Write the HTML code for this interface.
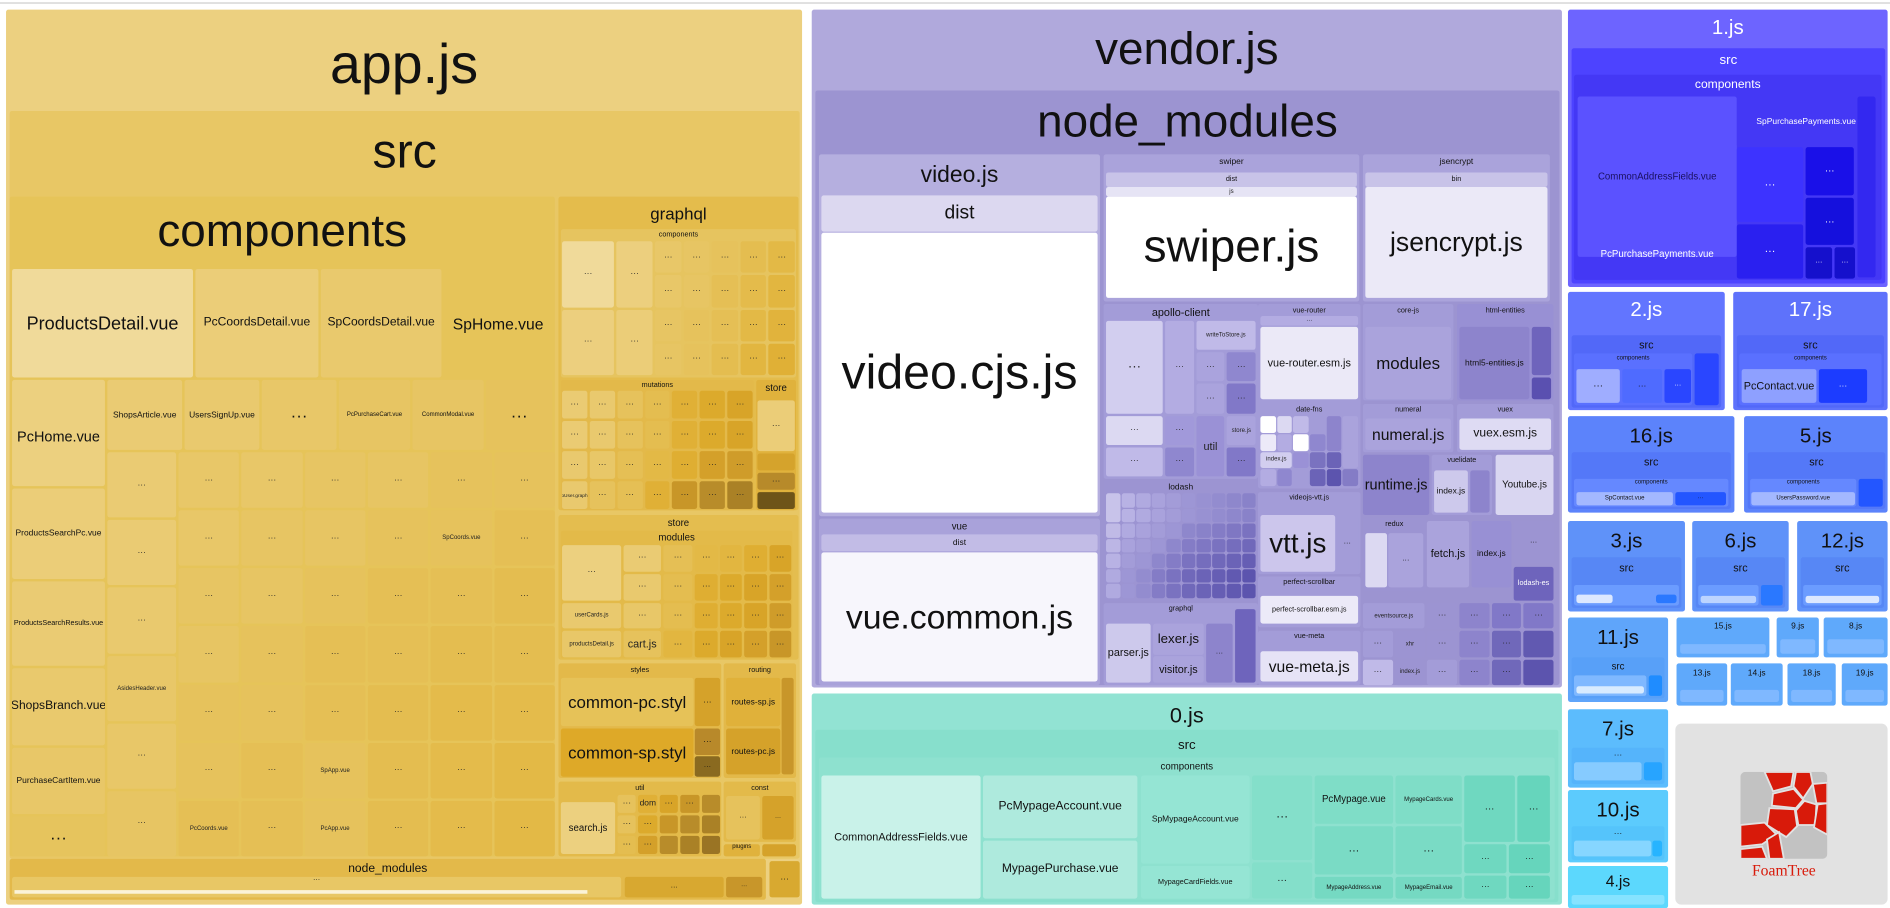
<!DOCTYPE html>
<html><head><meta charset="utf-8"><style>
html,body{margin:0;padding:0;width:1890px;height:908px;overflow:hidden;background:#fff}
#w{position:absolute;left:0;top:0;width:1567px;height:753px;transform:scale(1.20613);transform-origin:0 0}
.b{position:absolute;box-sizing:border-box;border-radius:2px;display:flex;justify-content:center;align-items:center;text-align:center;font-family:"Liberation Sans",sans-serif;color:#111;overflow:hidden;white-space:nowrap;line-height:1}
.t{align-items:flex-start}
.g{position:absolute;display:grid;gap:2px}
.g div{border-radius:2px;display:flex;align-items:center;justify-content:center;font-family:"Liberation Sans",sans-serif;font-size:7px;color:#222;overflow:hidden;white-space:nowrap}
.wt{color:#fff}
</style></head><body><div id="w">
<div style="position:absolute;left:0;top:2px;width:1567px;height:1px;background:#ccc"></div>
<!-- APP -->
<div class="b t" style="left:5px;top:8px;width:660px;height:742px;background:#ecd080;font-size:46px;padding-top:22px">app.js</div>
<div class="b t" style="left:8px;top:92px;width:655px;height:620px;background:#e8c765;font-size:40px;padding-top:14px">src</div>
<div class="b t" style="left:8px;top:163px;width:452px;height:547px;background:#e6c459;font-size:38px;padding-top:10px">components</div>
<div class="b" style="left:10px;top:223px;width:150px;height:90px;background:#f0da9a;font-size:15px">ProductsDetail.vue</div>
<div class="b" style="left:162px;top:223px;width:102px;height:90px;background:#ebcd78;font-size:10px">PcCoordsDetail.vue</div>
<div class="b" style="left:266px;top:223px;width:100px;height:90px;background:#e9c96d;font-size:10px">SpCoordsDetail.vue</div>
<div class="b" style="left:368px;top:223px;width:90px;height:90px;background:#e6c459;font-size:13px">SpHome.vue</div>
<div class="b" style="left:10px;top:315px;width:77px;height:88px;background:#ecd07f;font-size:12px;align-items:flex-end;padding-bottom:35px">PcHome.vue</div>
<div class="b" style="left:10px;top:405px;width:77px;height:75px;background:#ebcd78;font-size:7px">ProductsSearchPc.vue</div>
<div class="b" style="left:10px;top:482px;width:77px;height:70px;background:#eacb73;font-size:6px">ProductsSearchResults.vue</div>
<div class="b" style="left:10px;top:554px;width:77px;height:64px;background:#e9c96d;font-size:10px">ShopsBranch.vue</div>
<div class="b" style="left:10px;top:620px;width:77px;height:55px;background:#e8c768;font-size:7px">PurchaseCartItem.vue</div>
<div class="b" style="left:10px;top:677px;width:77px;height:33px;background:#e6c45d;font-size:14px">···</div>
<div class="b" style="left:89px;top:315px;width:62px;height:58px;background:#eacb73;font-size:7px">ShopsArticle.vue</div>
<div class="b" style="left:153px;top:315px;width:62px;height:58px;background:#e9c96e;font-size:7px">UsersSignUp.vue</div>
<div class="b" style="left:217px;top:315px;width:62px;height:58px;background:#e8c768;font-size:14px">···</div>
<div class="b" style="left:281px;top:315px;width:59px;height:58px;background:#e7c563;font-size:5px">PcPurchaseCart.vue</div>
<div class="b" style="left:342px;top:315px;width:59px;height:58px;background:#e7c563;font-size:5px">CommonModal.vue</div>
<div class="b" style="left:403px;top:315px;width:55px;height:58px;background:#e6c25c;font-size:14px">···</div>
<div class="g" style="left:89px;top:375px;width:57px;height:335px;grid-template-rows:repeat(6,1fr)">
<div style="background:#eacb73">···</div><div style="background:#eacb73">···</div><div style="background:#e9c96e">···</div><div style="background:#e8c768;font-size:5px">AsidesHeader.vue</div><div style="background:#e8c768">···</div><div style="background:#e7c563">···</div></div>
<div class="g" style="left:148px;top:375px;width:312px;height:335px;grid-template-columns:repeat(6,1fr);grid-template-rows:repeat(7,1fr)">
<div style="background:#e8c768">···</div><div style="background:#e8c768">···</div><div style="background:#e7c563">···</div><div style="background:#e7c563">···</div><div style="background:#e6c25c">···</div><div style="background:#e6c25c">···</div>
<div style="background:#e8c768">···</div><div style="background:#e7c563">···</div><div style="background:#e7c563">···</div><div style="background:#e6c25c">···</div><div style="background:#e6c25c;font-size:5px">SpCoords.vue</div><div style="background:#e5bf55">···</div>
<div style="background:#e7c563">···</div><div style="background:#e7c563">···</div><div style="background:#e6c25c">···</div><div style="background:#e5bf55">···</div><div style="background:#e5bf55">···</div><div style="background:#e4bd50">···</div>
<div style="background:#e7c563">···</div><div style="background:#e6c25c">···</div><div style="background:#e5bf55">···</div><div style="background:#e5bf55">···</div><div style="background:#e4bd50">···</div><div style="background:#e4bd50">···</div>
<div style="background:#e6c25c">···</div><div style="background:#e6c25c">···</div><div style="background:#e5bf55">···</div><div style="background:#e4bd50">···</div><div style="background:#e4bb4b">···</div><div style="background:#e4bb4b">···</div>
<div style="background:#e6c25c">···</div><div style="background:#e5bf55">···</div><div style="background:#e6c25c;font-size:5px">SpApp.vue</div><div style="background:#e4bd50">···</div><div style="background:#e4bb4b">···</div><div style="background:#e3b946">···</div>
<div style="background:#e5bf55;font-size:5px">PcCoords.vue</div><div style="background:#e5bf55">···</div><div style="background:#e6c25c;font-size:5px">PcApp.vue</div><div style="background:#e4bd50">···</div><div style="background:#e4bb4b">···</div><div style="background:#e3b946">···</div></div>
<!-- graphql -->
<div class="b t" style="left:463px;top:163px;width:199px;height:260px;background:#e4bc4c;font-size:14px;padding-top:7px">graphql</div>
<div class="b t" style="left:465px;top:190px;width:195px;height:123px;background:#e6c45f;font-size:6px;padding-top:2px">components</div>
<div class="g" style="left:466px;top:200px;width:193px;height:111px;grid-template-columns:2fr 1.4fr 1fr 1fr 1fr 1fr 1fr;grid-template-rows:repeat(4,1fr)">
<div style="background:#f0da9a;grid-row:span 2">···</div><div style="background:#eccf7e;grid-row:span 2">···</div><div style="background:#e8c768">···</div><div style="background:#e7c563">···</div><div style="background:#e6c25c">···</div><div style="background:#e4bd50">···</div><div style="background:#e3b946">···</div>
<div style="background:#e8c768">···</div><div style="background:#e7c563">···</div><div style="background:#e5bf55">···</div><div style="background:#e4bb4b">···</div><div style="background:#e2b640">···</div>
<div style="background:#eccf7e;grid-row:span 2">···</div><div style="background:#ebcd78;grid-row:span 2">···</div><div style="background:#e7c563">···</div><div style="background:#e6c25c">···</div><div style="background:#e5bf55">···</div><div style="background:#e3b946">···</div><div style="background:#e1b33c">···</div>
<div style="background:#e7c563">···</div><div style="background:#e6c25c">···</div><div style="background:#e4bd50">···</div><div style="background:#e2b640">···</div><div style="background:#e0b036">···</div></div>
<div class="b t" style="left:465px;top:315px;width:160px;height:108px;background:#e3b94a;font-size:6px;padding-top:2px">mutations</div>
<div class="g" style="left:466px;top:324px;width:158px;height:98px;grid-template-columns:repeat(7,1fr);grid-template-rows:repeat(4,1fr)">
<div style="background:#eacb73">···</div><div style="background:#e9c96e">···</div><div style="background:#e6c25c">···</div><div style="background:#e4bd50">···</div><div style="background:#e0b036">···</div><div style="background:#dcaa2c">···</div><div style="background:#d8a428">···</div>
<div style="background:#eacb73">···</div><div style="background:#e9c96e">···</div><div style="background:#e6c25c">···</div><div style="background:#e4bd50">···</div><div style="background:#e0b036">···</div><div style="background:#dcaa2c">···</div><div style="background:#d8a428">···</div>
<div style="background:#e9c96e">···</div><div style="background:#e8c768">···</div><div style="background:#e5bf55">···</div><div style="background:#e3b946">···</div><div style="background:#dfae32">···</div><div style="background:#d4a02a">···</div><div style="background:#cf9c2a">···</div>
<div style="background:#e9c96e;font-size:4px">isoUser.graphql</div><div style="background:#e6c25c">···</div><div style="background:#e5bf55">···</div><div style="background:#e0b036">···</div><div style="background:#c89628">···</div><div style="background:#b88c2a">···</div><div style="background:#aa8126">···</div></div>
<div class="b t" style="left:627px;top:315px;width:33px;height:108px;background:#e0b23c;font-size:8px;padding-top:3px">store</div>
<div class="g" style="left:628px;top:332px;width:31px;height:90px;grid-template-rows:3fr 1fr 1fr 1fr">
<div style="background:#ebcd78">···</div><div style="background:#d5a32c"></div><div style="background:#b78a2a">···</div><div style="background:#6e5418"></div></div>
<!-- store -->
<div class="b t" style="left:463px;top:427px;width:199px;height:120px;background:#e4bd4f;font-size:8px;padding-top:3px">store</div>
<div class="b t" style="left:465px;top:440px;width:192px;height:106px;background:#e3ba49;font-size:8px;padding-top:2px">modules</div>
<div class="g" style="left:466px;top:452px;width:190px;height:93px;grid-template-columns:1.6fr 1fr 0.8fr 0.6fr 0.6fr 0.6fr 0.6fr;grid-template-rows:repeat(4,1fr)">
<div style="background:#ecd07f;grid-row:span 2">···</div><div style="background:#eacb73">···</div><div style="background:#e5bf55">···</div><div style="background:#e3b946">···</div><div style="background:#e2b640">···</div><div style="background:#dfae32">···</div><div style="background:#d8a428">···</div>
<div style="background:#e9c96e">···</div><div style="background:#e4bd50">···</div><div style="background:#dfae32">···</div><div style="background:#dcaa2c">···</div><div style="background:#d8a428">···</div><div style="background:#d4a02a">···</div>
<div style="background:#e9c96e;font-size:5px">userCards.js</div><div style="background:#e8c768">···</div><div style="background:#e4bd50">···</div><div style="background:#dfae32">···</div><div style="background:#dcaa2c">···</div><div style="background:#d8a428">···</div><div style="background:#cf9c2a">···</div>
<div style="background:#e8c768;font-size:5px">productsDetail.js</div><div style="background:#e6c25c;font-size:9px">cart.js</div><div style="background:#e2b640">···</div><div style="background:#dcaa2c">···</div><div style="background:#d8a428">···</div><div style="background:#d4a02a">···</div><div style="background:#c89628">···</div></div>
<!-- styles -->
<div class="b t" style="left:463px;top:550px;width:135px;height:95px;background:#e3b94a;font-size:6px;padding-top:3px">styles</div>
<div class="b" style="left:465px;top:562px;width:110px;height:40px;background:#e6c258;font-size:14px">common-pc.styl</div>
<div class="b" style="left:465px;top:604px;width:110px;height:40px;background:#dea928;font-size:14px">common-sp.styl</div>
<div class="b" style="left:576px;top:562px;width:21px;height:40px;background:#d5a22a;font-size:7px">···</div>
<div class="b" style="left:576px;top:604px;width:21px;height:22px;background:#b8892a;font-size:7px">···</div>
<div class="b" style="left:576px;top:627px;width:21px;height:17px;background:#8a6a20;font-size:6px">···</div>
<div class="b t" style="left:600px;top:550px;width:60px;height:95px;background:#e3b94a;font-size:6px;padding-top:3px">routing</div>
<div class="b" style="left:602px;top:562px;width:45px;height:40px;background:#e0b13a;font-size:7px">routes-sp.js</div>
<div class="b" style="left:602px;top:604px;width:45px;height:38px;background:#d5a22a;font-size:7px">routes-pc.js</div>
<div class="b" style="left:648px;top:562px;width:10px;height:80px;background:#c8962a"></div>
<!-- util -->
<div class="b t" style="left:463px;top:648px;width:135px;height:62px;background:#e3ba4a;font-size:6px;padding-top:3px">util</div>
<div class="b" style="left:465px;top:665px;width:45px;height:43px;background:#ecd07f;font-size:8px">search.js</div>
<div class="g" style="left:512px;top:659px;width:85px;height:49px;grid-template-columns:repeat(5,1fr);grid-template-rows:repeat(3,1fr)">
<div style="background:#e6c25c">···</div><div style="background:#e0b036">dom</div><div style="background:#d8a428">···</div><div style="background:#c89628">···</div><div style="background:#b88c2a"></div>
<div style="background:#e6c25c">···</div><div style="background:#dcaa2c">···</div><div style="background:#c89628"></div><div style="background:#b88c2a"></div><div style="background:#aa8126"></div>
<div style="background:#e4bd50">···</div><div style="background:#d4a02a">···</div><div style="background:#b88c2a"></div><div style="background:#aa8126"></div><div style="background:#9a7424"></div></div>
<div class="b t" style="left:600px;top:648px;width:60px;height:50px;background:#e3ba4a;font-size:6px;padding-top:3px">const</div>
<div class="b" style="left:602px;top:660px;width:28px;height:36px;background:#e6c25c;font-size:6px">···</div>
<div class="b" style="left:632px;top:660px;width:26px;height:36px;background:#d5a22a;font-size:5px">···</div>
<div class="b t" style="left:600px;top:700px;width:30px;height:10px;background:#e0b23c;font-size:5px">plugins</div>
<div class="b" style="left:632px;top:700px;width:28px;height:10px;background:#d5a22a"></div>
<!-- node_modules bar -->
<div class="b t" style="left:8px;top:712px;width:627px;height:34px;background:#e3b94a;font-size:10px;padding-top:4px">node_modules</div>
<div class="b" style="left:10px;top:727px;width:505px;height:17px;background:#e8c765;font-size:6px;align-items:flex-start">···</div>
<div style="position:absolute;left:12px;top:738px;width:475px;height:3px;background:#fbf3d8"></div>
<div class="b" style="left:518px;top:727px;width:82px;height:17px;background:#d8a830;font-size:6px">···</div>
<div class="b" style="left:602px;top:727px;width:30px;height:17px;background:#c8962a;font-size:5px">···</div>
<div class="b" style="left:638px;top:714px;width:25px;height:30px;background:#d8a930;font-size:7px">···</div>

<!-- VENDOR -->
<div class="b t" style="left:673px;top:8px;width:622px;height:562px;background:#b0a9dc;font-size:38px;padding-top:14px">vendor.js</div>
<div class="b t" style="left:676px;top:75px;width:617px;height:493px;background:#9c94d1;font-size:38px;padding-top:7px">node_modules</div>
<div class="b t" style="left:679px;top:128px;width:233px;height:300px;background:#b5afdf;font-size:19px;padding-top:8px">video.js</div>
<div class="b" style="left:681px;top:162px;width:229px;height:30px;background:#dcd8f0;font-size:16px">dist</div>
<div class="b" style="left:681px;top:193px;width:229px;height:232px;background:#fff;font-size:40px">video.cjs.js</div>
<div class="b t" style="left:679px;top:430px;width:233px;height:138px;background:#a9a2da;font-size:8px;padding-top:3px">vue</div>
<div class="b" style="left:681px;top:443px;width:229px;height:14px;background:#c2bce6;font-size:7px">dist</div>
<div class="b" style="left:681px;top:458px;width:229px;height:107px;background:#f7f6fc;font-size:28px">vue.common.js</div>
<div class="b t" style="left:915px;top:128px;width:212px;height:122px;background:#aaa3db;font-size:7px;padding-top:3px">swiper</div>
<div class="b" style="left:917px;top:143px;width:208px;height:12px;background:#c8c3e8;font-size:6px">dist</div>
<div class="b" style="left:917px;top:155px;width:208px;height:8px;background:#e6e4f5;font-size:5px">js</div>
<div class="b" style="left:917px;top:163px;width:208px;height:84px;background:#fff;font-size:38px">swiper.js</div>
<div class="b t" style="left:1130px;top:128px;width:155px;height:122px;background:#aaa3db;font-size:7px;padding-top:3px">jsencrypt</div>
<div class="b" style="left:1132px;top:143px;width:151px;height:12px;background:#c8c3e8;font-size:6px">bin</div>
<div class="b" style="left:1132px;top:155px;width:151px;height:92px;background:#ebe9f7;font-size:22px">jsencrypt.js</div>
<!-- apollo -->
<div class="b t" style="left:915px;top:252px;width:128px;height:145px;background:#a39cd8;font-size:9px;padding-top:3px">apollo-client</div>
<div class="g" style="left:917px;top:266px;width:124px;height:129px;grid-template-columns:2fr 1fr 1fr 1fr;grid-template-rows:repeat(5,1fr)">
<div style="background:#d2ceef;grid-row:span 3;font-size:11px">···</div><div style="background:#b3ace2;grid-row:span 3">···</div><div style="background:#c0bae8;grid-column:span 2;font-size:5px">writeToStore.js</div>
<div style="background:#aaa3dd">···</div><div style="background:#8f87cf">···</div><div style="background:#aaa3dd">···</div><div style="background:#8178c8">···</div>
<div style="background:#dcd9f2">···</div><div style="background:#a199da">···</div><div style="background:#9a91d6;grid-row:span 2;font-size:9px">util</div><div style="background:#aaa3dd;font-size:5px">store.js</div>
<div style="background:#c0bae8">···</div><div style="background:#8f87cf">···</div><div style="background:#8178c8">···</div></div>
<div class="b t" style="left:1043px;top:252px;width:85px;height:105px;background:#a39cd8;font-size:6px;padding-top:3px">vue-router</div>
<div class="b" style="left:1045px;top:262px;width:81px;height:8px;background:#b3ace2;font-size:5px">···</div>
<div class="b" style="left:1045px;top:271px;width:81px;height:60px;background:#ebe9f7;font-size:9px">vue-router.esm.js</div>
<div class="b t" style="left:1130px;top:252px;width:75px;height:80px;background:#a39cd8;font-size:6px;padding-top:3px">core-js</div>
<div class="b" style="left:1132px;top:271px;width:71px;height:60px;background:#aaa3dc;font-size:14px">modules</div>
<div class="b t" style="left:1208px;top:252px;width:80px;height:80px;background:#9890d4;font-size:6px;padding-top:3px">html-entities</div>
<div class="b" style="left:1210px;top:271px;width:58px;height:60px;background:#8d84cc;font-size:7px">html5-entities.js</div>
<div class="b" style="left:1270px;top:271px;width:16px;height:40px;background:#6e64bc"></div>
<div class="b" style="left:1270px;top:313px;width:16px;height:18px;background:#5a50b0"></div>
<!-- lodash -->
<div class="b t" style="left:915px;top:398px;width:128px;height:100px;background:#9c94d2;font-size:7px;padding-top:3px">lodash</div>
<div class="g" style="left:917px;top:409px;width:124px;height:87px;grid-template-columns:repeat(10,1fr);grid-template-rows:repeat(7,1fr);gap:1px">
<div style="background:#c8c3ea;grid-row:span 2"></div><div style="background:#b8b2e4"></div><div style="background:#b0aae0"></div><div style="background:#a9a2dc"></div><div style="background:#a39cd8"></div><div style="background:#9d96d5"></div><div style="background:#9891d2"></div><div style="background:#938ccf"></div><div style="background:#8e87cc"></div><div style="background:#8982c9"></div>
<div style="background:#b8b2e4"></div><div style="background:#b0aae0"></div><div style="background:#a9a2dc"></div><div style="background:#a39cd8"></div><div style="background:#9d96d5"></div><div style="background:#9891d2"></div><div style="background:#938ccf"></div><div style="background:#8e87cc"></div><div style="background:#8982c9"></div>
<div style="background:#c0bae6"></div><div style="background:#b0aae0"></div><div style="background:#a9a2dc"></div><div style="background:#a39cd8"></div><div style="background:#9d96d5"></div><div style="background:#8e87cc"></div><div style="background:#8982c9"></div><div style="background:#847cc6"></div><div style="background:#7f77c3"></div><div style="background:#7a72c0"></div>
<div style="background:#bcb6e5"></div><div style="background:#a9a2dc"></div><div style="background:#a39cd8"></div><div style="background:#9d96d5"></div><div style="background:#8e87cc"></div><div style="background:#847cc6"></div><div style="background:#7f77c3"></div><div style="background:#7a72c0"></div><div style="background:#756dbd"></div><div style="background:#7068ba"></div>
<div style="background:#b8b2e4"></div><div style="background:#a39cd8"></div><div style="background:#9d96d5"></div><div style="background:#8e87cc"></div><div style="background:#847cc6"></div><div style="background:#7a72c0"></div><div style="background:#756dbd"></div><div style="background:#7068ba"></div><div style="background:#6b63b7"></div><div style="background:#665eb4"></div>
<div style="background:#b0aae0"></div><div style="background:#9d96d5"></div><div style="background:#938ccf"></div><div style="background:#847cc6"></div><div style="background:#7a72c0"></div><div style="background:#7068ba"></div><div style="background:#6b63b7"></div><div style="background:#665eb4"></div><div style="background:#6159b1"></div><div style="background:#5c54ae"></div>
<div style="background:#b0aae0"></div><div style="background:#9d96d5"></div><div style="background:#938ccf"></div><div style="background:#847cc6"></div><div style="background:#7a72c0"></div><div style="background:#7068ba"></div><div style="background:#6b63b7"></div><div style="background:#665eb4"></div><div style="background:#6159b1"></div><div style="background:#5c54ae"></div></div>
<!-- graphql vendor -->
<div class="b t" style="left:915px;top:500px;width:128px;height:68px;background:#a39cd8;font-size:6px;padding-top:2px">graphql</div>
<div class="b" style="left:917px;top:517px;width:37px;height:49px;background:#cdc9ec;font-size:9px">parser.js</div>
<div class="b" style="left:956px;top:517px;width:42px;height:26px;background:#aaa3dc;font-size:11px">lexer.js</div>
<div class="b" style="left:956px;top:544px;width:42px;height:22px;background:#aaa3dc;font-size:9px">visitor.js</div>
<div class="b" style="left:1000px;top:517px;width:22px;height:49px;background:#8d84cc;font-size:6px">···</div>
<div class="b" style="left:1024px;top:505px;width:17px;height:61px;background:#6e64bc"></div>
<!-- middle col -->
<div class="b t" style="left:1043px;top:335px;width:85px;height:70px;background:#a39cd8;font-size:6px;padding-top:2px">date-fns</div>
<div class="g" style="left:1045px;top:345px;width:81px;height:58px;grid-template-columns:repeat(6,1fr);grid-template-rows:repeat(4,1fr);gap:1px">
<div style="background:#fff"></div><div style="background:#dcd9f2"></div><div style="background:#c0bae8"></div><div style="background:#a39cd8"></div><div style="background:#8d84cc;grid-row:span 2"></div><div style="background:#aaa3dc;grid-row:span 3"></div>
<div style="background:#eceaf8"></div><div style="background:#b3ace2"></div><div style="background:#fff"></div><div style="background:#8f87cf"></div>
<div style="background:#d2ceef;font-size:5px;grid-column:span 2">index.js</div><div style="background:#9a91d6"></div><div style="background:#7a72c0"></div><div style="background:#6b63b7"></div>
<div style="background:#b3ace2"></div><div style="background:#8f87cf"></div><div style="background:#a39cd8"></div><div style="background:#6b63b7"></div><div style="background:#5c54ae"></div><div style="background:#847cc6"></div></div>
<div class="b t" style="left:1043px;top:408px;width:85px;height:68px;background:#a39cd8;font-size:6px;padding-top:2px">videojs-vtt.js</div>
<div class="b" style="left:1045px;top:427px;width:62px;height:47px;background:#ccc6ec;font-size:23px">vtt.js</div>
<div class="b" style="left:1108px;top:427px;width:18px;height:47px;background:#a39cd8;font-size:6px">···</div>
<div class="b t" style="left:1043px;top:478px;width:85px;height:42px;background:#a39cd8;font-size:6px;padding-top:2px">perfect-scrollbar</div>
<div class="b" style="left:1045px;top:494px;width:81px;height:23px;background:#eceaf8;font-size:6px">perfect-scrollbar.esm.js</div>
<div class="b t" style="left:1043px;top:523px;width:85px;height:45px;background:#a39cd8;font-size:6px;padding-top:2px">vue-meta</div>
<div class="b" style="left:1045px;top:540px;width:81px;height:25px;background:#e6e3f6;font-size:13px">vue-meta.js</div>
<!-- right vendor cols -->
<div class="b t" style="left:1130px;top:335px;width:75px;height:40px;background:#a39cd8;font-size:6px;padding-top:2px">numeral</div>
<div class="b" style="left:1132px;top:347px;width:71px;height:26px;background:#aaa3dc;font-size:13px">numeral.js</div>
<div class="b t" style="left:1208px;top:335px;width:80px;height:40px;background:#a39cd8;font-size:6px;padding-top:2px">vuex</div>
<div class="b" style="left:1210px;top:347px;width:76px;height:26px;background:#dedbf3;font-size:10px">vuex.esm.js</div>
<div class="b" style="left:1130px;top:377px;width:55px;height:50px;background:#8d84cc;font-size:12px">runtime.js</div>
<div class="b t" style="left:1187px;top:377px;width:50px;height:50px;background:#a39cd8;font-size:6px;padding-top:2px">vuelidate</div>
<div class="b" style="left:1189px;top:390px;width:28px;height:35px;background:#cdc9ec;font-size:7px">index.js</div>
<div class="b" style="left:1219px;top:390px;width:16px;height:35px;background:#8d84cc"></div>
<div class="b" style="left:1240px;top:377px;width:48px;height:50px;background:#d9d6f1;font-size:8px">Youtube.js</div>
<div class="b t" style="left:1130px;top:430px;width:52px;height:60px;background:#9c94d2;font-size:6px;padding-top:2px">redux</div>
<div class="b" style="left:1132px;top:442px;width:18px;height:45px;background:#dcd9f2"></div>
<div class="b" style="left:1151px;top:442px;width:29px;height:45px;background:#aaa3dc;font-size:6px">···</div>
<div class="b" style="left:1183px;top:432px;width:35px;height:55px;background:#aaa3dc;font-size:9px">fetch.js</div>
<div class="b" style="left:1220px;top:432px;width:33px;height:55px;background:#9890d4;font-size:7px">index.js</div>
<div class="b" style="left:1255px;top:432px;width:33px;height:35px;background:#9c94d2;font-size:6px">···</div>
<div class="b" style="left:1255px;top:470px;width:33px;height:28px;background:#6e64bc;font-size:6px;color:#fff">lodash-es</div>
<div class="g" style="left:1130px;top:500px;width:158px;height:68px;grid-template-columns:repeat(6,1fr);grid-template-rows:repeat(3,1fr)">
<div style="background:#a39cd8;grid-column:span 2;font-size:5px">eventsource.js</div><div style="background:#9c94d2">···</div><div style="background:#8d84cc">···</div><div style="background:#8178c8">···</div><div style="background:#8178c8">···</div>
<div style="background:#a39cd8">···</div><div style="background:#9c94d2;font-size:5px">xhr</div><div style="background:#9c94d2">···</div><div style="background:#8d84cc">···</div><div style="background:#7068ba">···</div><div style="background:#6159b1"></div>
<div style="background:#c0bae8">···</div><div style="background:#9c94d2;font-size:5px">index.js</div><div style="background:#a39cd8">···</div><div style="background:#8d84cc">···</div><div style="background:#7068ba">···</div><div style="background:#5c54ae"></div></div>

<!-- 0.js -->
<div class="b t" style="left:673px;top:575px;width:622px;height:175px;background:#92e3d3;font-size:18px;padding-top:9px">0.js</div>
<div class="b t" style="left:676px;top:605px;width:616px;height:143px;background:#87dfcc;font-size:11px;padding-top:8px">src</div>
<div class="b t" style="left:679px;top:628px;width:610px;height:118px;background:#8ee1cf;font-size:8px;padding-top:4px">components</div>
<div class="b" style="left:681px;top:643px;width:132px;height:102px;background:#c9f2e9;font-size:9px">CommonAddressFields.vue</div>
<div class="b" style="left:815px;top:643px;width:128px;height:52px;background:#aeeadd;font-size:10px">PcMypageAccount.vue</div>
<div class="b" style="left:815px;top:697px;width:128px;height:48px;background:#aeeadd;font-size:10px">MypagePurchase.vue</div>
<div class="b" style="left:946px;top:643px;width:90px;height:73px;background:#95e5d4;font-size:7px">SpMypageAccount.vue</div>
<div class="b" style="left:946px;top:718px;width:90px;height:27px;background:#95e5d4;font-size:6px">MypageCardFields.vue</div>
<div class="b" style="left:1038px;top:643px;width:50px;height:70px;background:#84dfca;font-size:10px">···</div>
<div class="b" style="left:1038px;top:715px;width:50px;height:30px;background:#84dfca;font-size:8px">···</div>
<div class="b" style="left:1090px;top:643px;width:65px;height:40px;background:#7fddc7;font-size:8px">PcMypage.vue</div>
<div class="b" style="left:1157px;top:643px;width:55px;height:40px;background:#7fddc7;font-size:5px">MypageCards.vue</div>
<div class="b" style="left:1090px;top:685px;width:65px;height:40px;background:#7adbc5;font-size:9px">···</div>
<div class="b" style="left:1157px;top:685px;width:55px;height:40px;background:#7adbc5;font-size:9px">···</div>
<div class="b" style="left:1090px;top:727px;width:65px;height:18px;background:#75d9c2;font-size:5px">MypageAddress.vue</div>
<div class="b" style="left:1157px;top:727px;width:55px;height:18px;background:#75d9c2;font-size:5px">MypageEmail.vue</div>
<div class="b" style="left:1214px;top:643px;width:42px;height:55px;background:#6fd8c0;font-size:8px">···</div>
<div class="b" style="left:1258px;top:643px;width:27px;height:55px;background:#66d5bc;font-size:8px">···</div>
<div class="b" style="left:1214px;top:700px;width:35px;height:24px;background:#6fd8c0;font-size:7px">···</div>
<div class="b" style="left:1251px;top:700px;width:34px;height:24px;background:#66d5bc;font-size:7px">···</div>
<div class="b" style="left:1214px;top:726px;width:35px;height:19px;background:#6fd8c0;font-size:7px">···</div>
<div class="b" style="left:1251px;top:726px;width:34px;height:19px;background:#66d5bc;font-size:7px">···</div>

<!-- 1.js -->
<div class="b t wt" style="left:1300px;top:8px;width:265px;height:230px;background:#6d64ff;font-size:17px;padding-top:6px">1.js</div>
<div class="b t wt" style="left:1303px;top:40px;width:260px;height:195px;background:#4d43ff;font-size:11px;padding-top:5px">src</div>
<div class="b t wt" style="left:1305px;top:62px;width:255px;height:170px;background:#4438f5;font-size:10px;padding-top:4px">components</div>
<div class="b" style="left:1308px;top:80px;width:132px;height:133px;background:#5b52ff;font-size:8px;color:#1a1060">CommonAddressFields.vue</div>
<div class="b wt" style="left:1308px;top:200px;width:132px;height:22px;font-size:8px">PcPurchasePayments.vue</div>
<div class="b wt" style="left:1440px;top:80px;width:115px;height:42px;background:#4438f5;font-size:7px">SpPurchasePayments.vue</div>
<div class="b wt" style="left:1440px;top:122px;width:55px;height:62px;background:#3d33ff;font-size:9px">···</div>
<div class="b wt" style="left:1497px;top:122px;width:40px;height:40px;background:#1a10e8;font-size:8px">···</div>
<div class="b wt" style="left:1497px;top:164px;width:40px;height:39px;background:#1510dd;font-size:8px">···</div>
<div class="b wt" style="left:1440px;top:186px;width:55px;height:45px;background:#2a20f0;font-size:9px">···</div>
<div class="b wt" style="left:1497px;top:205px;width:22px;height:26px;background:#1510cc;font-size:6px">···</div>
<div class="b wt" style="left:1521px;top:205px;width:17px;height:26px;background:#1510cc;font-size:6px">···</div>
<div class="b" style="left:1540px;top:80px;width:15px;height:150px;background:#3328f0"></div>
<!-- 2.js 17.js -->
<div class="b t wt" style="left:1300px;top:242px;width:130px;height:98px;background:#6275ff;font-size:17px;padding-top:6px">2.js</div>
<div class="b t" style="left:1303px;top:278px;width:124px;height:60px;background:#5268f8;font-size:9px;padding-top:4px">src</div>
<div class="b t" style="left:1305px;top:293px;width:98px;height:43px;background:#5a70ff;font-size:5px;padding-top:2px">components</div>
<div class="b" style="left:1307px;top:306px;width:36px;height:28px;background:#9fadff;font-size:8px">···</div>
<div class="b" style="left:1345px;top:306px;width:33px;height:28px;background:#4f6bff;font-size:7px">···</div>
<div class="b wt" style="left:1380px;top:306px;width:22px;height:28px;background:#2a46ff;font-size:6px">···</div>
<div class="b" style="left:1405px;top:293px;width:20px;height:43px;background:#2a46ff"></div>
<div class="b t wt" style="left:1437px;top:242px;width:128px;height:98px;background:#5e72fb;font-size:17px;padding-top:6px">17.js</div>
<div class="b t" style="left:1440px;top:278px;width:122px;height:60px;background:#5268f8;font-size:9px;padding-top:4px">src</div>
<div class="b t" style="left:1442px;top:293px;width:118px;height:43px;background:#5a70ff;font-size:5px;padding-top:2px">components</div>
<div class="b" style="left:1444px;top:306px;width:62px;height:28px;background:#8ea0ff;font-size:9px">PcContact.vue</div>
<div class="b wt" style="left:1508px;top:306px;width:40px;height:28px;background:#1c3cff;font-size:7px">···</div>
<!-- 16 5 -->
<div class="b t" style="left:1300px;top:345px;width:138px;height:80px;background:#5c83fb;font-size:17px;padding-top:8px">16.js</div>
<div class="b t" style="left:1303px;top:375px;width:132px;height:47px;background:#5478f8;font-size:9px;padding-top:4px">src</div>
<div class="b t" style="left:1305px;top:397px;width:128px;height:23px;background:#6588ff;font-size:5px;padding-top:1px">components</div>
<div class="b" style="left:1307px;top:408px;width:80px;height:11px;background:#a3b8ff;font-size:5px">SpContact.vue</div>
<div class="b" style="left:1389px;top:408px;width:42px;height:11px;background:#2356ff;font-size:5px">···</div>
<div class="b t" style="left:1446px;top:345px;width:119px;height:80px;background:#5c83fb;font-size:17px;padding-top:8px">5.js</div>
<div class="b t" style="left:1449px;top:375px;width:114px;height:47px;background:#5478f8;font-size:9px;padding-top:4px">src</div>
<div class="b t" style="left:1451px;top:397px;width:88px;height:23px;background:#6588ff;font-size:5px;padding-top:1px">components</div>
<div class="b" style="left:1452px;top:408px;width:86px;height:11px;background:#a3b8ff;font-size:5px">UsersPassword.vue</div>
<div class="b" style="left:1541px;top:397px;width:20px;height:23px;background:#2356ff"></div>
<!-- 3 6 12 -->
<div class="b t" style="left:1300px;top:432px;width:97px;height:75px;background:#5f92f9;font-size:17px;padding-top:8px">3.js</div>
<div class="b t" style="left:1303px;top:462px;width:91px;height:42px;background:#5787f5;font-size:9px;padding-top:5px">src</div>
<div class="b" style="left:1305px;top:485px;width:87px;height:17px;background:#6b9cff"></div>
<div class="b" style="left:1307px;top:493px;width:30px;height:7px;background:#dce8ff"></div>
<div class="b" style="left:1373px;top:493px;width:17px;height:7px;background:#2a78ff"></div>
<div class="b t" style="left:1403px;top:432px;width:80px;height:75px;background:#5f92f9;font-size:17px;padding-top:8px">6.js</div>
<div class="b t" style="left:1406px;top:462px;width:74px;height:42px;background:#5787f5;font-size:9px;padding-top:5px">src</div>
<div class="b" style="left:1408px;top:485px;width:50px;height:17px;background:#6b9cff"></div>
<div class="b" style="left:1410px;top:494px;width:46px;height:6px;background:#bcd4ff"></div>
<div class="b" style="left:1460px;top:485px;width:18px;height:17px;background:#2a78ff"></div>
<div class="b t" style="left:1490px;top:432px;width:75px;height:75px;background:#5f92f9;font-size:17px;padding-top:8px">12.js</div>
<div class="b t" style="left:1493px;top:462px;width:69px;height:42px;background:#5787f5;font-size:9px;padding-top:5px">src</div>
<div class="b" style="left:1495px;top:485px;width:65px;height:17px;background:#6b9cff"></div>
<div class="b" style="left:1497px;top:494px;width:61px;height:6px;background:#dce8ff"></div>
<!-- small chunks -->
<div class="b t" style="left:1300px;top:512px;width:83px;height:70px;background:#5fa5fa;font-size:17px;padding-top:8px">11.js</div>
<div class="b t" style="left:1303px;top:545px;width:77px;height:34px;background:#58a0f8;font-size:8px;padding-top:4px">src</div>
<div class="b" style="left:1305px;top:560px;width:60px;height:17px;background:#7fb8ff"></div>
<div class="b" style="left:1307px;top:569px;width:56px;height:6px;background:#d8ebff"></div>
<div class="b" style="left:1367px;top:560px;width:11px;height:17px;background:#1f8cff"></div>
<div class="b t" style="left:1390px;top:512px;width:77px;height:33px;background:#5fa9fb;font-size:7px;padding-top:4px">15.js</div>
<div class="b" style="left:1393px;top:534px;width:71px;height:8px;background:#7fb8ff"></div>
<div class="b t" style="left:1473px;top:512px;width:35px;height:33px;background:#5fa9fb;font-size:7px;padding-top:4px">9.js</div>
<div class="b" style="left:1476px;top:530px;width:29px;height:12px;background:#7fb8ff"></div>
<div class="b t" style="left:1512px;top:512px;width:53px;height:33px;background:#5fa9fb;font-size:7px;padding-top:4px">8.js</div>
<div class="b" style="left:1515px;top:530px;width:47px;height:12px;background:#7fb8ff"></div>
<div class="b t" style="left:1390px;top:550px;width:42px;height:35px;background:#5fa9fb;font-size:7px;padding-top:5px">13.js</div>
<div class="b" style="left:1393px;top:572px;width:36px;height:10px;background:#7fb8ff"></div>
<div class="b t" style="left:1435px;top:550px;width:43px;height:35px;background:#5fa9fb;font-size:7px;padding-top:5px">14.js</div>
<div class="b" style="left:1438px;top:572px;width:37px;height:10px;background:#7fb8ff"></div>
<div class="b t" style="left:1482px;top:550px;width:40px;height:35px;background:#5fa9fb;font-size:7px;padding-top:5px">18.js</div>
<div class="b" style="left:1485px;top:572px;width:34px;height:10px;background:#7fb8ff"></div>
<div class="b t" style="left:1527px;top:550px;width:38px;height:35px;background:#5fa9fb;font-size:7px;padding-top:5px">19.js</div>
<div class="b" style="left:1530px;top:572px;width:32px;height:10px;background:#7fb8ff"></div>
<div class="b t" style="left:1300px;top:588px;width:83px;height:65px;background:#5cbcfd;font-size:17px;padding-top:8px">7.js</div>
<div class="b t" style="left:1303px;top:620px;width:77px;height:30px;background:#55b4fb;font-size:7px;padding-top:3px">···</div>
<div class="b" style="left:1305px;top:632px;width:56px;height:15px;background:#86cbff"></div>
<div class="b" style="left:1363px;top:632px;width:15px;height:15px;background:#27a4ff"></div>
<div class="b t" style="left:1300px;top:655px;width:83px;height:60px;background:#5ccbfd;font-size:17px;padding-top:8px">10.js</div>
<div class="b t" style="left:1303px;top:685px;width:77px;height:28px;background:#55c4fb;font-size:7px;padding-top:3px">···</div>
<div class="b" style="left:1305px;top:697px;width:64px;height:13px;background:#86d6ff"></div>
<div class="b" style="left:1370px;top:697px;width:8px;height:13px;background:#27b4ff"></div>
<div class="b t" style="left:1300px;top:718px;width:83px;height:35px;background:#5cd8fd;font-size:13px;padding-top:6px">4.js</div>
<div class="b" style="left:1303px;top:742px;width:77px;height:8px;background:#86e3ff"></div>
<!-- FoamTree -->
<div class="b" style="left:1389px;top:600px;width:176px;height:150px;background:#e2e2e2;border-radius:5px"></div>
<svg style="position:absolute;left:1443px;top:640px" width="72" height="90" viewBox="0 0 72 90">
<rect x="0" y="0" width="72" height="72" rx="4" fill="#c2c2c2"/>
<g fill="#d81a0a" stroke="#e2e2e2" stroke-width="1.5">
<polygon points="20,0 44,0 42,12 27,16"/>
<polygon points="46,0 58,0 60,10 52,22 44,12"/>
<polygon points="60,10 72,9 72,26 63,26"/>
<polygon points="27,18 44,14 52,23 46,30 26,28"/>
<polygon points="53,24 63,27 62,44 48,44 46,32"/>
<polygon points="64,27 72,26 72,52 61,46"/>
<polygon points="24,30 45,31 47,45 38,54 22,44"/>
<polygon points="0,44 20,42 30,52 18,60 0,62"/>
<polygon points="22,56 32,50 36,72 24,72"/>
<polygon points="0,64 18,62 22,72 0,72"/>
</g>
<text x="36" y="86" text-anchor="middle" font-family="Liberation Serif,serif" font-size="13" fill="#d81a0a">FoamTree</text>
</svg>
</div></body></html>
